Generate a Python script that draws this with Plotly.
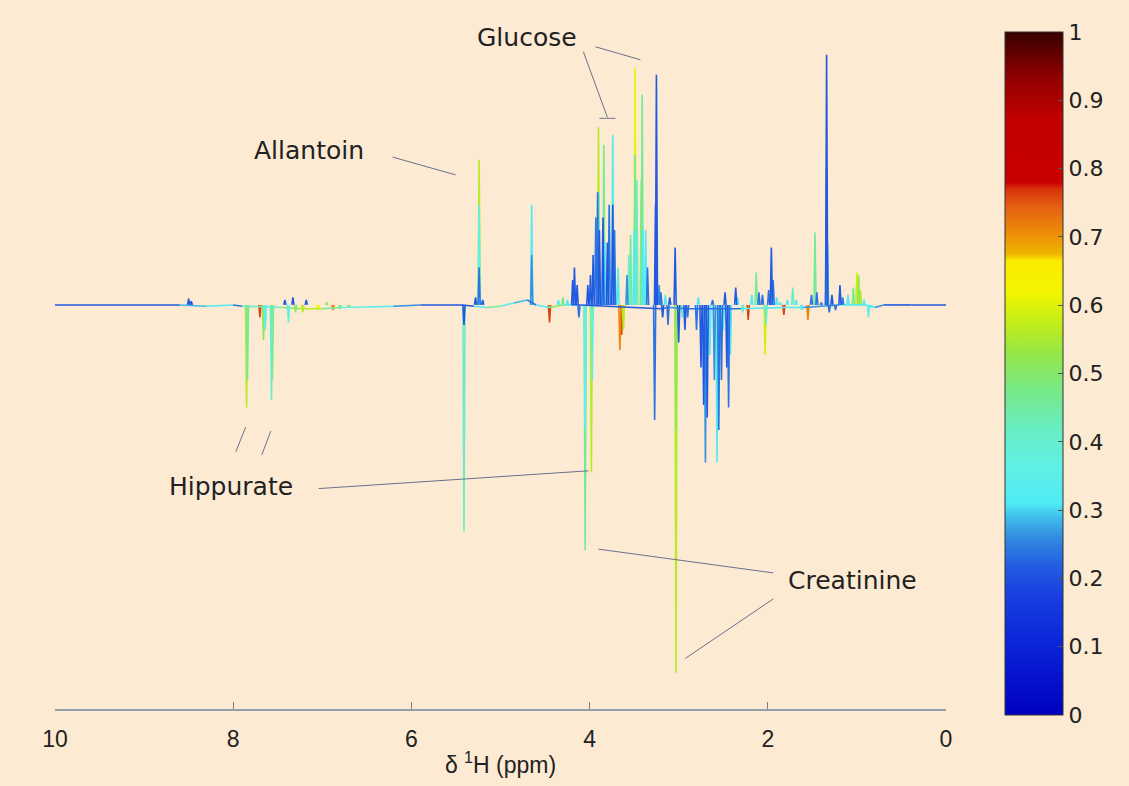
import plotly.graph_objects as go
from plotly.colors import sample_colorscale

# ---------------- data ----------------
axis_ticks = [10, 8, 6, 4, 2, 0]
cbar_ticks = [0, 0.1, 0.2, 0.3, 0.4, 0.5, 0.6, 0.7, 0.8, 0.9, 1]
cbar_ticktext = ["0", "0.1", "0.2", "0.3", "0.4", "0.5", "0.6", "0.7", "0.8", "0.9", "1"]

# baseline vertices: chemical shift, level, correlation colour
baseline_ppm = [10.0, 9.0, 8.6, 8.3, 8.0, 7.9, 7.45, 7.25, 7.0, 6.8, 6.5, 6.2, 5.9, 5.42,
                5.3, 5.15, 5.0, 4.85, 4.7, 4.6, 4.45, 4.3, 4.2, 4.1, 3.2, 3.1, 2.9, 2.3,
                1.8, 1.6, 1.2, 0.9, 0.8, 0.7, 0.4, 0.0]
baseline_level = [0.0, 0.0, 0.0, -0.005, 0.0, -0.005, -0.01, -0.015, -0.015, -0.01, -0.008, -0.005, 0.0, 0.0,
                  -0.005, -0.01, -0.005, 0.008, 0.02, 0.0, -0.01, 0.0, 0.0, 0.0, -0.015, -0.01, -0.015, -0.015,
                  -0.01, -0.01, 0.0, 0.0, -0.01, 0.0, 0.0, 0.0]
baseline_corr = [0.21, 0.22, 0.28, 0.32, 0.24, 0.4, 0.5, 0.55, 0.45, 0.35, 0.3, 0.27, 0.22, 0.21,
                 0.3, 0.45, 0.35, 0.28, 0.24, 0.3, 0.5, 0.3, 0.24, 0.22, 0.24, 0.27, 0.24, 0.3,
                 0.3, 0.27, 0.3, 0.3, 0.27, 0.21, 0.21, 0.21]

# spectral peaks: chemical shift (ppm), signed intensity, correlation
peak_ppm = [
    8.50, 8.47,
    7.85, 7.84, 7.70, 7.66, 7.64, 7.57, 7.56, 7.42, 7.38, 7.33, 7.30, 7.22, 7.18, 7.05, 6.95, 6.88, 6.80, 6.70,
    5.41, 5.41, 5.28, 5.24, 5.24, 5.24, 5.20,
    4.65, 4.65, 4.45, 4.35, 4.30, 4.25, 4.19, 4.17, 4.14, 4.12,
    4.05, 4.05, 3.98, 3.97, 4.02, 3.99, 3.96, 3.93, 3.91,
    3.90, 3.90, 3.89, 3.84, 3.85, 3.83, 3.80, 3.78, 3.74, 3.74, 3.72,
    3.68, 3.66, 3.64, 3.62, 3.58, 3.56, 3.54,
    3.49, 3.49, 3.50, 3.47, 3.41, 3.42, 3.40, 3.37, 3.35,
    3.25, 3.26, 3.27, 3.22, 3.20, 3.18, 3.15, 3.12, 3.10,
    3.04, 3.03, 3.03, 3.00, 2.96, 2.93, 2.90,
    2.80, 2.78, 2.75, 2.72, 2.70, 2.68, 2.65, 2.62, 2.60, 2.57, 2.55, 2.52, 2.50, 2.48, 2.46, 2.44, 2.42,
    2.36, 2.34, 2.28, 2.22, 2.18, 2.13, 2.10, 2.06, 2.03, 2.02, 1.99, 1.96, 1.94, 1.90, 1.86, 1.82,
    1.78, 1.72, 1.68, 1.62, 1.55, 1.51, 1.47, 1.45, 1.40,
    1.34, 1.34, 1.33, 1.31, 1.28, 1.24, 1.19, 1.16, 1.10, 1.04, 1.00, 0.98, 0.96, 0.92, 0.87, 0.84,
]
peak_height = [
    0.025, 0.015,
    -0.41, -0.30, -0.05, -0.14, -0.10, -0.38, -0.30, 0.02, -0.07, 0.03, -0.03, -0.03, 0.02, -0.02, 0.01, -0.02, -0.015, -0.01,
    -0.905, -0.08, 0.03, 0.58, 0.40, 0.15, 0.02,
    0.40, 0.20, -0.07, 0.02, 0.03, 0.02, 0.10, 0.15, 0.08, -0.05,
    -0.98, -0.50, -0.67, -0.30, 0.08, 0.12, 0.20, 0.35, 0.45,
    0.71, 0.45, 0.30, 0.64, 0.35, 0.25, 0.25, 0.40, 0.68, 0.40, 0.30,
    0.15, -0.18, -0.12, -0.10, 0.12, 0.20, 0.28,
    0.95, 0.60, 0.30, 0.50, 0.84, 0.50, 0.30, 0.30, 0.15,
    0.92, 0.40, -0.46, 0.08, 0.05, -0.05, 0.04, -0.08, 0.03,
    0.23, -1.47, -0.50, -0.15, -0.05, -0.10, -0.05,
    -0.10, 0.03, -0.25, -0.40, -0.63, -0.45, -0.20, 0.02, -0.30, -0.63, -0.50, -0.30, -0.10, 0.05, -0.25, -0.41, -0.20,
    0.07, 0.03, -0.03, -0.06, 0.04, 0.13, 0.05, 0.04, -0.20, -0.08, 0.06, 0.23, 0.10, 0.03, 0.01, -0.04,
    0.02, 0.07, 0.02, -0.02, -0.06, 0.04, 0.29, 0.05, 0.01,
    1.00, 0.55, 0.25, -0.03, 0.04, -0.02, 0.08, 0.03, 0.04, 0.07, 0.13, 0.12, 0.06, 0.02, -0.05, -0.01,
]
peak_corr = [
    0.20, 0.22,
    0.55, 0.45, 0.75, 0.50, 0.35, 0.40, 0.50, 0.20, 0.35, 0.20, 0.50, 0.55, 0.20, 0.60, 0.50, 0.70, 0.45, 0.50,
    0.40, 0.22, 0.22, 0.55, 0.35, 0.24, 0.22,
    0.30, 0.26, 0.75, 0.30, 0.45, 0.30, 0.22, 0.20, 0.22, 0.24,
    0.45, 0.35, 0.55, 0.35, 0.22, 0.20, 0.22, 0.24, 0.24,
    0.55, 0.30, 0.22, 0.45, 0.22, 0.30, 0.22, 0.24, 0.30, 0.21, 0.24,
    0.30, 0.72, 0.75, 0.55, 0.27, 0.40, 0.45,
    0.60, 0.45, 0.30, 0.40, 0.45, 0.50, 0.30, 0.30, 0.24,
    0.22, 0.21, 0.23, 0.27, 0.24, 0.22, 0.30, 0.24, 0.22,
    0.21, 0.55, 0.50, 0.22, 0.40, 0.22, 0.24,
    0.24, 0.30, 0.22, 0.21, 0.27, 0.21, 0.30, 0.24, 0.27, 0.30, 0.24, 0.24, 0.30, 0.22, 0.22, 0.24, 0.30,
    0.22, 0.30, 0.40, 0.75, 0.30, 0.45, 0.24, 0.24, 0.58, 0.40, 0.24, 0.22, 0.24, 0.30, 0.30, 0.75,
    0.30, 0.40, 0.30, 0.30, 0.72, 0.24, 0.45, 0.24, 0.24,
    0.22, 0.25, 0.29, 0.24, 0.22, 0.24, 0.22, 0.24, 0.30, 0.45, 0.58, 0.50, 0.55, 0.30, 0.35, 0.30,
]

# metabolite labels
label_text = ["Glucose", "Allantoin", "Hippurate", "Creatinine"]
label_ppm = [4.70, 7.15, 8.02, 1.05]
label_height = [1.071, 0.619, -0.726, -1.103]

# leader lines (start ppm, start intensity, end ppm, end intensity)
leader_ppm0 = [3.935, 4.070, 3.890, 6.211, 7.040, 7.971, 7.679, 3.901, 2.926]
leader_h0 = [1.032, 1.012, 0.746, 0.591, -0.734, -0.587, -0.599, -0.976, -1.413]
leader_ppm1 = [3.430, 3.800, 3.711, 5.505, 4.013, 7.859, 7.578, 1.939, 1.939]
leader_h1 = [0.980, 0.750, 0.746, 0.520, -0.663, -0.488, -0.504, -1.071, -1.175]

# ---------------- styling ----------------
BG = "rgb(253,234,210)"
PEAK_HW = 0.012
N_BINS = 40
colorscale = [
    [0.0, "rgb(0,0,190)"], [0.10, "rgb(10,35,215)"], [0.18, "rgb(25,65,225)"],
    [0.22, "rgb(35,95,225)"], [0.26, "rgb(50,140,225)"], [0.29, "rgb(65,190,235)"],
    [0.31, "rgb(80,235,245)"], [0.36, "rgb(95,240,230)"], [0.42, "rgb(105,238,195)"],
    [0.48, "rgb(120,232,130)"], [0.53, "rgb(150,230,70)"], [0.58, "rgb(200,238,20)"],
    [0.62, "rgb(245,245,0)"], [0.665, "rgb(250,235,0)"], [0.675, "rgb(240,180,0)"],
    [0.71, "rgb(235,135,10)"], [0.745, "rgb(230,95,20)"], [0.77, "rgb(215,50,10)"],
    [0.78, "rgb(200,0,0)"], [0.87, "rgb(195,0,0)"], [0.93, "rgb(150,0,0)"],
    [1.0, "rgb(55,0,0)"],
]

# ---------------- build coloured segments ----------------
bins = {i: ([], []) for i in range(N_BINS)}


def add_path(xs, ys, c):
    b = min(int(c * N_BINS), N_BINS - 1)
    bins[b][0].extend(list(xs) + [None])
    bins[b][1].extend(list(ys) + [None])


for i in range(len(baseline_ppm) - 1):
    add_path([baseline_ppm[i], baseline_ppm[i + 1]],
             [baseline_level[i], baseline_level[i + 1]], baseline_corr[i])

for p, h, c in zip(peak_ppm, peak_height, peak_corr):
    add_path([p + PEAK_HW, p, p - PEAK_HW], [0, h, 0], c)

fig = go.Figure()
# higher correlation drawn first, bluer traces on top
for b in sorted(bins.keys(), reverse=True):
    xs, ys = bins[b]
    if not xs:
        continue
    col = sample_colorscale(colorscale, [(b + 0.5) / N_BINS])[0]
    fig.add_trace(go.Scatter(x=xs, y=ys, mode="lines",
                             line=dict(color=col, width=1.6),
                             hoverinfo="skip", showlegend=False))

# colour bar carrier
fig.add_trace(go.Scatter(
    x=[5, 5], y=[0, 0], mode="markers", showlegend=False, hoverinfo="skip",
    marker=dict(size=1, opacity=0, color=[0, 1], cmin=0, cmax=1,
                colorscale=colorscale, showscale=True,
                colorbar=dict(
                    thickness=58, thicknessmode="pixels",
                    len=683, lenmode="pixels",
                    x=1.066, xanchor="left", xpad=0,
                    y=0.997, yanchor="top", ypad=0,
                    tickvals=cbar_ticks, ticktext=cbar_ticktext,
                    ticks="inside", ticklen=5, tickcolor="#555",
                    outlinecolor="#333", outlinewidth=1,
                    tickfont=dict(family="DejaVu Sans", size=22, color="#222"),
                ))))

for t, xp, yp in zip(label_text, label_ppm, label_height):
    fig.add_annotation(x=xp, y=yp, text=t, showarrow=False,
                       xanchor="center", yanchor="middle",
                       font=dict(family="DejaVu Sans", size=25, color="#222"))

for x0, y0, x1, y1 in zip(leader_ppm0, leader_h0, leader_ppm1, leader_h1):
    fig.add_shape(type="line", xref="x", yref="y", x0=x0, y0=y0, x1=x1, y1=y1,
                  line=dict(color="rgb(105,112,140)", width=1))

fig.update_layout(
    width=1129, height=786, autosize=False,
    margin=dict(l=55, r=183, t=30, b=72),
    paper_bgcolor=BG, plot_bgcolor=BG,
    xaxis=dict(range=[10, 0], tickvals=axis_ticks, ticktext=[str(v) for v in axis_ticks],
               showgrid=False, zeroline=False, showline=True,
               linecolor="rgb(150,158,172)", linewidth=2,
               ticks="inside", ticklen=7, tickcolor="rgb(120,125,140)",
               ticklabelstandoff=8,
               tickfont=dict(family="Liberation Sans", size=23, color="#222"),
               title=dict(text="δ <sup>1</sup>H (ppm)", standoff=6,
                          font=dict(family="Liberation Sans", size=23, color="#222"))),
    yaxis=dict(range=[-1.615, 1.099], visible=False, showgrid=False, zeroline=False),
)

fig.write_html(
    "out.html",
    config={"displayModeBar": False},
    post_script="document.body.style.margin='0';document.body.style.background='rgb(253,234,210)';",
)
